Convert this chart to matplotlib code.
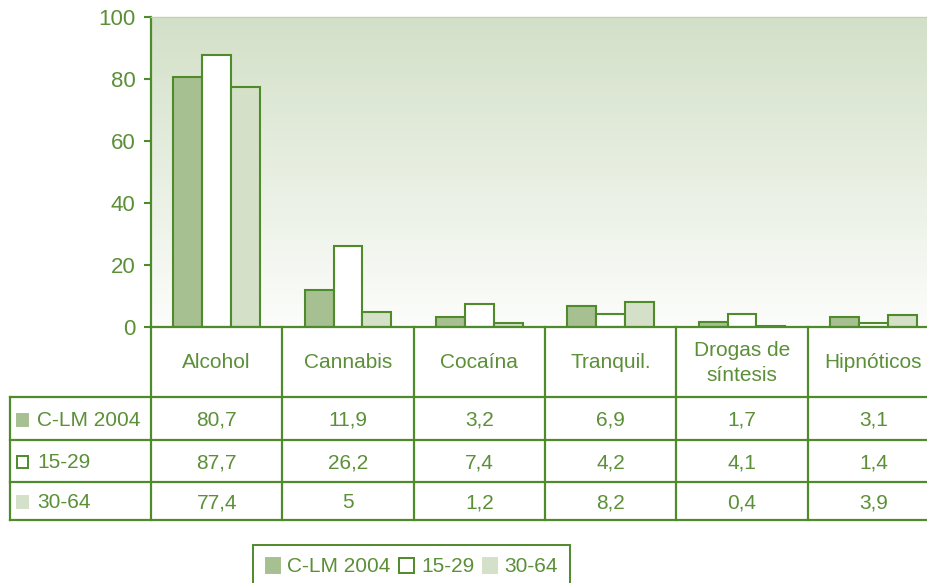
import numpy as np
import matplotlib.pyplot as plt
from matplotlib.colors import LinearSegmentedColormap
from matplotlib.patches import Patch, Rectangle
from matplotlib.transforms import blended_transform_factory

plt.rcParams['font.family'] = ['Liberation Sans', 'DejaVu Sans']

categories = ['Alcohol', 'Cannabis', 'Cocaína', 'Tranquil.', 'Drogas de\nsíntesis', 'Hipnóticos']
series_names = ['C-LM 2004', '15-29', '30-64']
clm_2004 = [80.7, 11.9, 3.2, 6.9, 1.7, 3.1]
age_15_29 = [87.7, 26.2, 7.4, 4.2, 4.1, 1.4]
age_30_64 = [77.4, 5, 1.2, 8.2, 0.4, 3.9]
y_ticks = [0, 20, 40, 60, 80, 100]

green = '#4f8a2b'
text_green = '#5b8f38'
fills = ['#a7c091', '#ffffff', '#d4e1c8']
series = [clm_2004, age_15_29, age_30_64]
fs = 15

fig = plt.figure(figsize=(9.27, 5.83), dpi=100)
ax = fig.add_axes([151 / 927, 1 - 327 / 583, 788 / 927, 310 / 583])

x = np.arange(len(categories))
ax.set_xlim(-0.5, len(categories) - 0.5)
ax.set_ylim(0, 100)

# gradient background
grad = LinearSegmentedColormap.from_list('g', ['#fcfdfb', '#d3e0c8'])
ax.imshow(np.linspace(0, 1, 200).reshape(-1, 1), cmap=grad, origin='lower',
          extent=[-0.5, len(categories) - 0.5, 0, 100], aspect='auto', zorder=0)

w = 0.22
for i, vals in enumerate(series):
    ax.bar(x + (i - 1) * w, vals, width=w, color=fills[i], edgecolor=green,
           linewidth=1.5, zorder=2, label=series_names[i])

ax.set_yticks(y_ticks)
ax.set_xticks([])
ax.tick_params(axis='y', colors=green, labelcolor=text_green, length=5, width=1.5,
               pad=6, labelsize=16)
ax.spines['right'].set_visible(False)
ax.spines['top'].set_color('#c2d3b4')
ax.spines['top'].set_linewidth(1)
ax.spines['left'].set_color(green)
ax.spines['left'].set_linewidth(1.6)
ax.spines['bottom'].set_color(green)
ax.spines['bottom'].set_linewidth(1.6)

# data table under the chart
tr = blended_transform_factory(ax.transData, ax.transAxes)
row_edges = [0, -70 / 310, -113 / 310, -155 / 310, -193 / 310]
left_edge = -0.5 - 141 / 131.3
n = len(categories)
line_kw = dict(color=green, linewidth=1.6, transform=tr, clip_on=False)

for k in range(n + 1):
    ax.plot([k - 0.5, k - 0.5], [row_edges[0], row_edges[-1]], **line_kw)
for yb in row_edges[1:]:
    ax.plot([left_edge, n - 0.5], [yb, yb], **line_kw)
ax.plot([left_edge, left_edge], [row_edges[1], row_edges[-1]], **line_kw)

for j, cat in enumerate(categories):
    ax.text(j, (row_edges[0] + row_edges[1]) / 2 - 1 / 310, cat, transform=tr,
            ha='center', va='center', color=text_green, fontsize=fs, linespacing=1.35)

for i, vals in enumerate(series):
    yc = (row_edges[i + 1] + row_edges[i + 2]) / 2
    for j, v in enumerate(vals):
        ax.text(j, yc, f'{v:g}'.replace('.', ','), transform=tr, ha='center',
                va='center_baseline', color=text_green, fontsize=fs)
    ax.add_patch(Rectangle((left_edge + 7 / 131.3, yc - 7 / 310), 11 / 131.3, 12 / 310,
                           transform=tr, clip_on=False, facecolor=fills[i],
                           edgecolor=green if i == 1 else fills[i], linewidth=1.4))
    ax.text(left_edge + 27 / 131.3, yc, series_names[i], transform=tr, ha='left',
            va='center_baseline', color=text_green, fontsize=fs)

handles = [Patch(facecolor=fills[i], edgecolor=green if i == 1 else fills[i],
                 linewidth=1.4, label=series_names[i]) for i in range(3)]
leg = fig.legend(handles=handles, loc='upper left', ncol=3,
                 bbox_to_anchor=(253 / 927, 1 - 545 / 583), fancybox=False,
                 edgecolor=green, fontsize=fs, handlelength=0.7, handleheight=0.7,
                 handletextpad=0.35, columnspacing=0.4, borderpad=0.6,
                 borderaxespad=0, labelcolor=text_green, framealpha=1)
leg.get_frame().set_linewidth(1.4)

fig.savefig('out.png', dpi=100)
